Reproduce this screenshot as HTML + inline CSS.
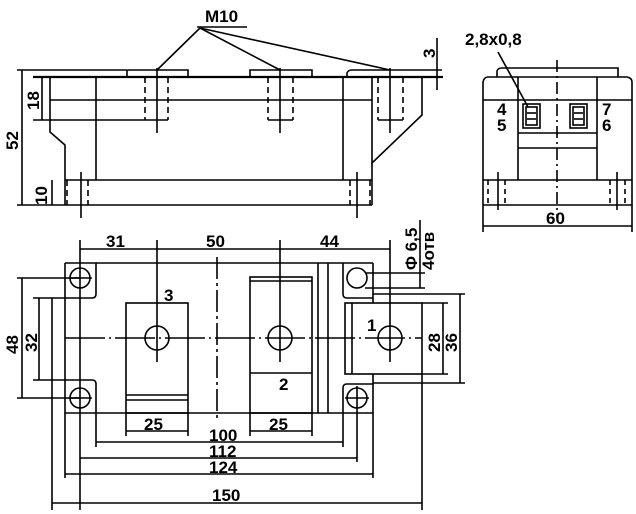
<!DOCTYPE html>
<html><head><meta charset="utf-8"><style>
html,body{margin:0;padding:0;background:#fff;}
svg{display:block;}
text{font-family:"Liberation Sans",sans-serif;font-size:17px;font-weight:bold;fill:#000;}
</style></head><body>
<svg width="636" height="514" viewBox="0 0 636 514" xmlns="http://www.w3.org/2000/svg">
<g stroke="#000" stroke-width="1.6" fill="none">
<!-- SIDE VIEW -->
<line x1="17" y1="70" x2="127" y2="70"/>
<path d="M127,77 V71 Q127,70 129,70 H188 V77"/>
<path d="M250,77 V70 H312 V77"/>
<path d="M347,77 V73 Q348,70 352,70 H442"/>
<line x1="33" y1="77" x2="443" y2="77" stroke-width="2.2"/>
<path d="M50,77 V132 L65,145 V205"/>
<path d="M372,77 V163 L422,115 V77"/>
<line x1="50" y1="100" x2="372" y2="100"/>
<line x1="96" y1="77" x2="96" y2="180"/>
<line x1="343" y1="77" x2="343" y2="180"/>
<line x1="65" y1="180" x2="372" y2="180"/>
<line x1="17" y1="205" x2="372" y2="205"/>
<line x1="372" y1="163" x2="372" y2="205"/>
<g stroke-dasharray="6,4">
<line x1="145" y1="77" x2="145" y2="120"/><line x1="168" y1="77" x2="168" y2="120"/>
<line x1="268" y1="77" x2="268" y2="120"/><line x1="293" y1="77" x2="293" y2="120"/>
<line x1="378" y1="77" x2="378" y2="120"/><line x1="403" y1="77" x2="403" y2="120"/>
<line x1="67" y1="180" x2="67" y2="205"/><line x1="88" y1="180" x2="88" y2="205"/>
<line x1="350" y1="180" x2="350" y2="205"/><line x1="370" y1="180" x2="370" y2="205"/>
</g>
<line x1="33" y1="120" x2="168" y2="120"/>
<line x1="268" y1="120" x2="293" y2="120"/>
<line x1="378" y1="120" x2="403" y2="120"/>
<line x1="157" y1="68" x2="157" y2="133"/>
<line x1="280" y1="68" x2="280" y2="133"/>
<line x1="390" y1="68" x2="390" y2="133"/>
<line x1="81" y1="172" x2="81" y2="218"/>
<line x1="357" y1="172" x2="357" y2="218"/>
<line x1="197" y1="27" x2="247" y2="27"/>
<line x1="200" y1="28" x2="157" y2="70"/>
<line x1="200" y1="28" x2="280" y2="70"/>
<line x1="200" y1="28" x2="390" y2="70"/>
<line x1="22" y1="70" x2="22" y2="205"/>
<line x1="42" y1="77" x2="42" y2="120"/>
<line x1="52" y1="180" x2="52" y2="205"/>
<line x1="437" y1="38" x2="437" y2="90"/>
<!-- END VIEW -->
<path d="M497,77 V71 Q498,68 502,68 H618 V77"/>
<path d="M483,205 V82 Q484,77 488,77 H627 Q632,78 632,82 V205 H483"/>
<line x1="483" y1="100" x2="632" y2="100"/>
<line x1="518" y1="77" x2="518" y2="180"/>
<line x1="597" y1="77" x2="597" y2="180"/>
<line x1="518" y1="133" x2="597" y2="133"/>
<line x1="518" y1="148" x2="597" y2="148"/>
<line x1="483" y1="180" x2="632" y2="180"/>
<rect x="523" y="104" width="17" height="24"/><rect x="526" y="107" width="11" height="18"/>
<line x1="527" y1="113" x2="536" y2="113"/><line x1="527" y1="119" x2="536" y2="119"/>
<rect x="570" y="104" width="17" height="24"/><rect x="573" y="107" width="11" height="18"/>
<line x1="574" y1="113" x2="583" y2="113"/><line x1="574" y1="119" x2="583" y2="119"/>
<line x1="498" y1="52" x2="528" y2="107"/>
<line x1="557" y1="60" x2="557" y2="218" stroke-dasharray="12,4,2,4"/>
<g stroke-dasharray="5,4">
<line x1="488" y1="180" x2="488" y2="205"/><line x1="505" y1="180" x2="505" y2="205"/>
<line x1="610" y1="180" x2="610" y2="205"/><line x1="625" y1="180" x2="625" y2="205"/>
</g>
<line x1="498" y1="172" x2="498" y2="210"/><line x1="617" y1="172" x2="617" y2="210"/>
<line x1="483" y1="205" x2="483" y2="232"/><line x1="632" y1="205" x2="632" y2="232"/>
<line x1="483" y1="226" x2="632" y2="226"/>
<!-- TOP VIEW -->
<path d="M65,263 H96 V294 Q96,298 92,298 H65 M65,263 V413 H373 V374 M65,380 H92 Q96,380 96,384 V413"/>
<line x1="96" y1="263" x2="373" y2="263"/>
<path d="M343,263 V294 Q343,298 347,298 H373 V303 M373,263 V298"/>
<path d="M343,413 V388 Q343,384 347,384 H373"/>
<line x1="318" y1="263" x2="318" y2="413"/>
<line x1="328" y1="263" x2="328" y2="413"/>
<circle cx="80" cy="278" r="10"/><circle cx="80" cy="398" r="10"/>
<circle cx="357" cy="278" r="10"/><circle cx="357" cy="398" r="10"/>
<line x1="68" y1="278" x2="92" y2="278"/><line x1="68" y1="398" x2="92" y2="398"/>
<line x1="345" y1="398" x2="369" y2="398"/><line x1="357" y1="386" x2="357" y2="410"/>
<line x1="80" y1="240" x2="80" y2="510"/>
<rect x="126" y="303" width="62" height="110"/>
<line x1="126" y1="395" x2="188" y2="395"/><line x1="126" y1="400" x2="188" y2="400"/>
<circle cx="157" cy="338" r="12"/>
<line x1="157" y1="240" x2="157" y2="362"/>
<rect x="250" y="277" width="62" height="136"/>
<line x1="250" y1="281" x2="312" y2="281"/>
<line x1="250" y1="373" x2="312" y2="373"/>
<circle cx="280" cy="338" r="12"/>
<line x1="280" y1="240" x2="280" y2="362"/>
<rect x="345" y="303" width="77" height="71"/>
<line x1="352" y1="303" x2="352" y2="374"/>
<line x1="422" y1="303" x2="448" y2="303"/><line x1="422" y1="374" x2="448" y2="374"/>
<circle cx="390" cy="338" r="12"/>
<line x1="390" y1="240" x2="390" y2="362"/>
<line x1="373" y1="294" x2="465" y2="294"/><line x1="373" y1="383" x2="465" y2="383"/>
<line x1="365" y1="273" x2="425" y2="273"/><line x1="365" y1="288" x2="425" y2="288"/>
<line x1="420" y1="220" x2="420" y2="288"/>
<line x1="65" y1="338" x2="422" y2="338" stroke-dasharray="40,4,2,4"/>
<line x1="217" y1="257" x2="217" y2="420" stroke-dasharray="22,4,3,4"/>
<line x1="80" y1="249" x2="390" y2="249"/>
<line x1="17" y1="278" x2="80" y2="278"/><line x1="17" y1="398" x2="80" y2="398"/>
<line x1="22" y1="278" x2="22" y2="398"/>
<line x1="33" y1="298" x2="65" y2="298"/><line x1="33" y1="380" x2="65" y2="380"/>
<line x1="39" y1="298" x2="39" y2="380"/>
<line x1="52" y1="298" x2="52" y2="510"/>
<line x1="443" y1="303" x2="443" y2="374"/>
<line x1="460" y1="294" x2="460" y2="383"/>
<line x1="422" y1="374" x2="422" y2="510"/>
<line x1="126" y1="413" x2="126" y2="436"/><line x1="188" y1="413" x2="188" y2="436"/>
<line x1="250" y1="413" x2="250" y2="436"/><line x1="312" y1="413" x2="312" y2="436"/>
<line x1="126" y1="431" x2="188" y2="431"/>
<line x1="250" y1="431" x2="312" y2="431"/>
<line x1="96" y1="413" x2="96" y2="447"/><line x1="343" y1="413" x2="343" y2="447"/>
<line x1="96" y1="442" x2="343" y2="442"/>
<line x1="357" y1="410" x2="357" y2="462"/>
<line x1="80" y1="458" x2="357" y2="458"/>
<line x1="65" y1="413" x2="65" y2="478"/><line x1="373" y1="413" x2="373" y2="478"/>
<line x1="65" y1="474" x2="373" y2="474"/>
<line x1="52" y1="503" x2="422" y2="503"/>
</g>
<text x="205" y="22" font-size="18">M10</text>
<text x="465" y="45" font-size="17">2,8x0,8</text>
<text x="497" y="115">4</text><text x="497" y="131">5</text>
<text x="602" y="115">7</text><text x="602" y="131">6</text>
<text x="546" y="224" font-size="18">60</text>
<text transform="translate(18,150) rotate(-90)" font-size="18">52</text>
<text transform="translate(39,110) rotate(-90)">18</text>
<text transform="translate(47,205) rotate(-90)">10</text>
<text transform="translate(435,58) rotate(-90)">3</text>
<text x="106" y="247" font-size="18">31</text>
<text x="206" y="247" font-size="18">50</text>
<text x="320" y="247" font-size="18">44</text>
<text transform="translate(417,270) rotate(-90)" font-size="18">Φ 6,5</text>
<text transform="translate(434,270) rotate(-90)" font-size="15">4отв</text>
<text x="164" y="301">3</text>
<text x="279" y="390">2</text>
<text x="367" y="331">1</text>
<text transform="translate(18,354) rotate(-90)" font-size="18">48</text>
<text transform="translate(37,352) rotate(-90)">32</text>
<text transform="translate(440,352) rotate(-90)">28</text>
<text transform="translate(457,352) rotate(-90)">36</text>
<text x="144" y="430">25</text>
<text x="269" y="430">25</text>
<text x="209" y="441">100</text>
<text x="209" y="457">112</text>
<text x="209" y="473">124</text>
<text x="212" y="501" font-size="18">150</text>
</svg>
</body></html>
